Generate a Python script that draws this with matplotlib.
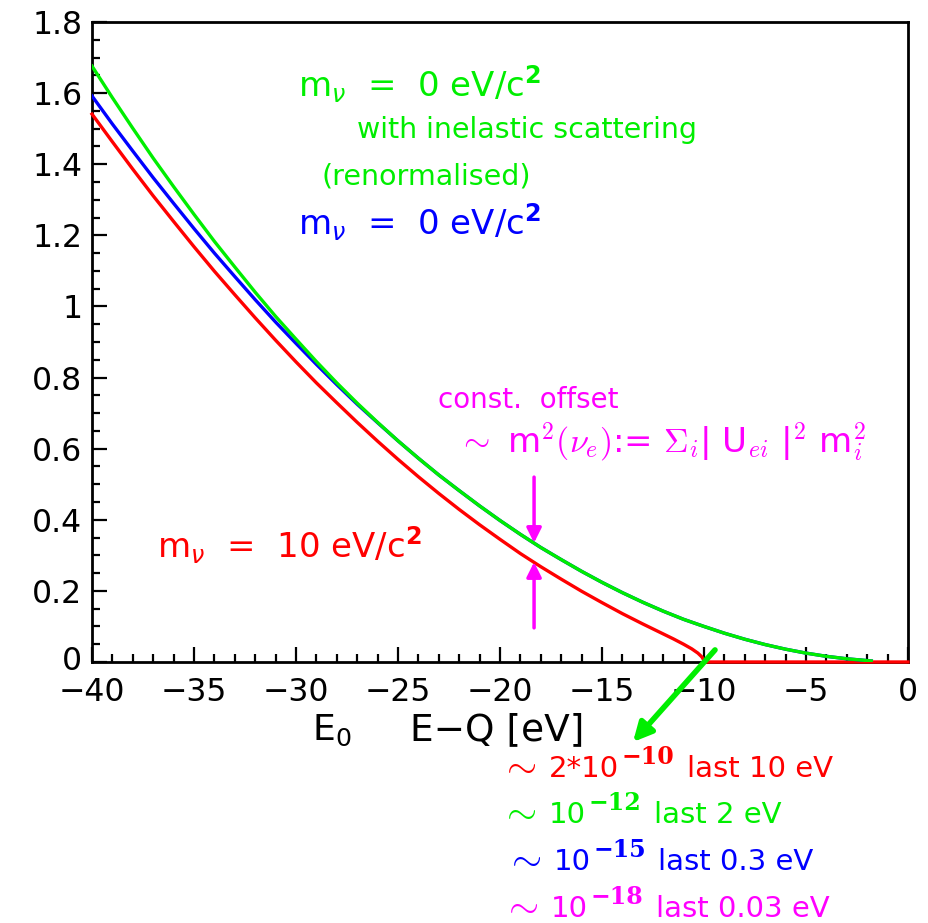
import matplotlib
matplotlib.use("Agg")
import matplotlib.pyplot as plt
from matplotlib.ticker import MultipleLocator, FuncFormatter
from matplotlib.transforms import ScaledTranslation

# ---------------- data ----------------
E_zero = [-40, -39, -38, -37, -36, -35, -34, -33, -32, -31, -30, -29, -28, -27,
          -26, -25, -24, -23, -22, -21, -20, -19, -18, -17, -16, -15, -14, -13,
          -12, -11, -10, -9, -8, -7, -6, -5, -4, -3, -2, -1.8]
blue_m0 = [1.592, 1.513, 1.437, 1.362, 1.290, 1.219, 1.150, 1.084, 1.019, 0.956,
           0.896, 0.837, 0.780, 0.725, 0.673, 0.622, 0.573, 0.526, 0.482, 0.439,
           0.398, 0.359, 0.322, 0.288, 0.255, 0.224, 0.195, 0.168, 0.143, 0.120,
           0.100, 0.081, 0.064, 0.049, 0.036, 0.025, 0.016, 0.009, 0.004, 0.003]
green_inel = [1.676, 1.587, 1.501, 1.417, 1.337, 1.259, 1.183, 1.111, 1.040, 0.972,
              0.908, 0.845, 0.785, 0.728, 0.674, 0.622, 0.573, 0.526, 0.482, 0.439,
              0.398, 0.359, 0.322, 0.288, 0.255, 0.224, 0.195, 0.168, 0.143, 0.120,
              0.100, 0.081, 0.064, 0.049, 0.036, 0.025, 0.016, 0.009, 0.004, 0.003]

E_red = [-40, -39, -38, -37, -36, -35, -34, -33, -32, -31, -30, -29, -28, -27,
         -26, -25, -24, -23, -22, -21, -20, -19, -18, -17, -16, -15, -14, -13,
         -12, -11.5, -11, -10.6, -10.3, -10.1, -10.02, -10, 0]
red_m10 = [1.541, 1.463, 1.386, 1.311, 1.239, 1.168, 1.099, 1.033, 0.968, 0.905,
           0.844, 0.785, 0.729, 0.674, 0.621, 0.570, 0.521, 0.474, 0.429, 0.386,
           0.345, 0.305, 0.268, 0.233, 0.199, 0.167, 0.136, 0.107, 0.079, 0.065,
           0.050, 0.037, 0.025, 0.014, 0.006, 0.0, 0.0]

# offset arrows (E position, tail, tip)
offset_E = -18.33
offset_top = (0.52, 0.335)
offset_bot = (0.096, 0.281)

# notes below the axis: (prefix, exponent, suffix)
note_prefix = ["2*10", "10", "10", "10"]
note_exp = ["\u221210", "\u221212", "\u221215", "\u221218"]
note_suffix = ["last 10 eV", "last 2 eV", "last 0.3 eV", "last 0.03 eV"]

# ---------------- figure ----------------
W, H = 929, 923
fig = plt.figure(figsize=(W / 100, H / 100), dpi=100)
ax = fig.add_axes([92 / W, 1 - 662 / H, (908 - 92) / W, (662 - 22) / H])

RED, GREEN, BLUE, MAG = "#ff0000", "#00ee00", "#0000ff", "#ff00ff"
note_colors = [RED, GREEN, BLUE, MAG]
LW = 2.4

ax.plot(E_red, red_m10, color=RED, lw=LW, clip_on=False, zorder=3)
ax.plot(E_zero, blue_m0, color=BLUE, lw=LW, zorder=4)
ax.plot(E_zero, green_inel, color=GREEN, lw=LW, zorder=5)

ax.set_xlim(-40, 0)
ax.set_ylim(0, 1.8)
ax.xaxis.set_major_locator(MultipleLocator(5))
ax.xaxis.set_minor_locator(MultipleLocator(1))
ax.yaxis.set_major_locator(MultipleLocator(0.2))
ax.yaxis.set_minor_locator(MultipleLocator(0.05))
ax.yaxis.set_major_formatter(FuncFormatter(lambda v, p: f"{v:.1f}".rstrip("0").rstrip(".") if abs(v) > 1e-9 else "0"))
ax.xaxis.set_major_formatter(FuncFormatter(lambda v, p: ("\u2212%d" % abs(round(v))) if v < -1e-9 else "0"))
ax.tick_params(which="both", direction="in", top=False, right=False, width=1.6,
               labelsize=22.7, colors="black")
ax.tick_params(which="major", length=11)
ax.tick_params(which="minor", length=5.5)
ax.tick_params(axis="x", pad=11)
ax.tick_params(axis="y", pad=7)
for s in ax.spines.values():
    s.set_linewidth(2)

# arrows for constant offset
ax.annotate("", xy=(offset_E, offset_top[1]), xytext=(offset_E, offset_top[0]),
            arrowprops=dict(arrowstyle="-|>", color=MAG, lw=2.5, mutation_scale=22,
                            shrinkA=0, shrinkB=0))
ax.annotate("", xy=(offset_E, offset_bot[1]), xytext=(offset_E, offset_bot[0]),
            arrowprops=dict(arrowstyle="-|>", color=MAG, lw=2.5, mutation_scale=22,
                            shrinkA=0, shrinkB=0))
# green arrow pointing to the notes below
ax.annotate("", xy=(-13.48, -0.225), xytext=(-9.46, 0.034), annotation_clip=False,
            arrowprops=dict(arrowstyle="-|>", color=GREEN, lw=4, mutation_scale=28,
                            shrinkA=0, shrinkB=0))


def ftext(x, y, s, **kw):
    return fig.text(x / W, 1 - y / H, s, ha="left", va="baseline", **kw)


ftext(298, 97, r"m$_\nu$  =  0 eV/c$^\mathbf{2}$", color=GREEN, fontsize=24.5)
ftext(357, 138, "with inelastic scattering", color=GREEN, fontsize=20.5)
ftext(322, 185, "(renormalised)", color=GREEN, fontsize=20.5)
ftext(298, 235, r"m$_\nu$  =  0 eV/c$^\mathbf{2}$", color=BLUE, fontsize=24.5)
ftext(157, 558, r"m$_\nu$  =  10 eV/c$^\mathbf{2}$", color=RED, fontsize=24.5)
ftext(438, 408, "const.  offset", color=MAG, fontsize=20)
ftext(458, 452, r"$\sim$ m$^2(\nu_e)$:= $\Sigma_i$| U$_{ei}$ |$^2$ m$_i^2$",
      color=MAG, fontsize=24.5, math_fontfamily="cm")

ftext(312, 740, r"E$_0$", color="black", fontsize=26)
ftext(410, 740, "E\u2212Q [eV]", color="black", fontsize=27)

# bottom notes, composed piece by piece
fig.canvas.draw()
renderer = fig.canvas.get_renderer()
note_x = [500, 500, 505, 502]
note_base = [777, 823, 870, 917]
for i in range(4):
    c = note_colors[i]
    x, yb = note_x[i], note_base[i]
    t = ftext(x, yb - 1, r"$\sim$", color=c, fontsize=28, math_fontfamily="cm")
    bb = t.get_window_extent(renderer)
    x = bb.x1 + 12
    t = ftext(x, yb, note_prefix[i], color=c, fontsize=21)
    bb = t.get_window_extent(renderer)
    x = bb.x1 + 3
    t = ftext(x, yb - 13, note_exp[i], color=c, fontsize=17, family="DejaVu Serif",
              weight="bold")
    bb = t.get_window_extent(renderer)
    x = bb.x1 + 12
    ftext(x, yb, note_suffix[i], color=c, fontsize=21)

# nudge the y "0" label up a little so it does not collide with "-40"
for tk in ax.yaxis.get_major_ticks():
    if abs(tk.get_loc()) < 1e-9:
        lab = tk.label1
        lab.set_transform(lab.get_transform() + ScaledTranslation(0, 3 / 72, fig.dpi_scale_trans))

fig.savefig("out.png", dpi=100)
